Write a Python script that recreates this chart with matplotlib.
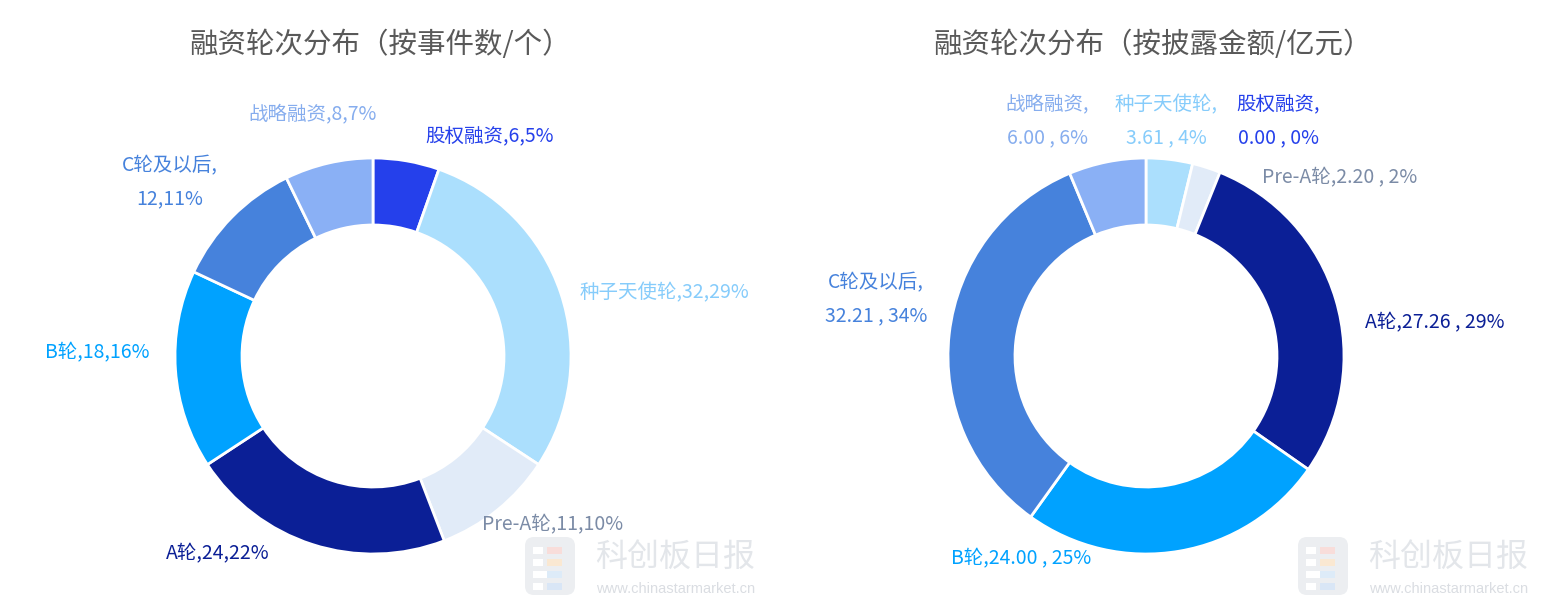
import matplotlib.pyplot as plt
from matplotlib.patches import FancyBboxPatch, Rectangle
import numpy as np

plt.rcParams['font.family'] = ['Noto Sans CJK SC', 'DejaVu Sans']

# ---- data ----
left_names = ["股权融资", "种子天使轮", "Pre-A轮", "A轮", "B轮", "C轮及以后", "战略融资"]
left_counts = [6, 32, 11, 24, 18, 12, 8]

right_names = ["股权融资", "种子天使轮", "Pre-A轮", "A轮", "B轮", "C轮及以后", "战略融资"]
right_amounts = [0.00, 3.61, 2.20, 27.26, 24.00, 32.21, 6.00]

left_title = "融资轮次分布（按事件数/个）"
right_title = "融资轮次分布（按披露金额/亿元）"

# ---- style ----
wedge_colors = ["#2540EB", "#ABDFFD", "#E1EBF8", "#0B1F96", "#00A2FF", "#4682DC", "#8AB0F5"]
label_colors = ["#2540EB", "#86CCFB", "#7B8BA6", "#0B1F96", "#00A2FF", "#4682DC", "#86ADEE"]

W, H = 1545, 610
R_OUT, R_IN = 198, 131

# label offsets from the outer middle point of each wedge (pixels, y down)
left_offsets = [(83, -24), (104, 0), (55, 15), (-95, 9), (-78, -17), (-62, -35), (-16, -48)]
left_breaks = [False, False, False, False, False, True, False]
right_offsets = [(132, -37), (-3, -38), (133, 10), (99, 23), (-158, 8), (-73, -34), (-60, -41)]
right_breaks = [True, True, False, False, False, True, True]


def py(y):
    # pixel row (top = 0) to axes y
    return H - y


def draw_donut(ax, cx, cy, names, values, fmt, offsets, breaks, title):
    """Draws one donut with its labels and title, centre given in pixels."""
    total = float(sum(values))
    ax.pie(values, colors=wedge_colors, startangle=90, counterclock=False,
           radius=R_OUT, center=(cx, py(cy)),
           wedgeprops=dict(width=R_OUT - R_IN, edgecolor="white", linewidth=2))

    # labels next to each wedge
    start = 0.0
    for i, v in enumerate(values):
        mid = np.radians((start + v / 2) / total * 360)
        start += v
        ex = cx + R_OUT * np.sin(mid)
        ey = cy - R_OUT * np.cos(mid)
        pct = round(v / total * 100)
        sep = "\n" if breaks[i] else ""
        text = fmt.format(name=names[i], v=v, p=pct, sep=sep)
        dx, dy = offsets[i]
        ax.text(ex + dx, py(ey + dy), text, ha="center", va="center",
                fontsize=14, color=label_colors[i], linespacing=1.75)

    # the closing full-width bracket carries blank space, so nudge right a bit
    ax.text(cx + 7, py(45), title, ha="center", va="center", fontsize=20.5, color="#595959")


def draw_watermark(ax, x0):
    """Faint logo and site name in the lower right of each chart."""
    ax.add_patch(FancyBboxPatch((x0 + 4, py(595)), 50, 58,
                                boxstyle="round,pad=0,rounding_size=9",
                                fc="#ECEEF1", ec="none"))
    for k, y in enumerate([547, 559, 571, 583]):
        ax.add_patch(Rectangle((x0 + 12, py(y + 7)), 10 if k != 2 else 22, 7, fc="white", ec="none"))
    for (dx, y, c) in [(26, 547, "#F8DDDA"), (26, 559, "#FAE8D2"), (26, 571, "#DDEBF8"), (26, 583, "#D9E6F6")]:
        ax.add_patch(Rectangle((x0 + dx, py(y + 7)), 15, 7, fc=c, ec="none"))
    ax.text(x0 + 74, py(557), "科创板日报", ha="left", va="center", fontsize=23, color="#E3E6EA")
    ax.text(x0 + 75, py(589), "www.chinastarmarket.cn", ha="left", va="center",
            fontsize=10.5, color="#DADDE2", family="Liberation Sans")


fig = plt.figure(figsize=(W / 100, H / 100), dpi=100)
ax = fig.add_axes([0, 0, 1, 1])

draw_donut(ax, 373, 356, left_names, left_counts, "{name},{sep}{v},{p}%",
           left_offsets, left_breaks, left_title)
draw_donut(ax, 1146, 356, right_names, right_amounts, "{name},{sep}{v:.2f} , {p}%",
           right_offsets, right_breaks, right_title)

draw_watermark(ax, 521)
draw_watermark(ax, 1294)

ax.set_xlim(0, W)
ax.set_ylim(0, H)
ax.set_aspect("equal")
ax.axis("off")

plt.savefig("out.png", dpi=100, facecolor="white")
plt.close()
